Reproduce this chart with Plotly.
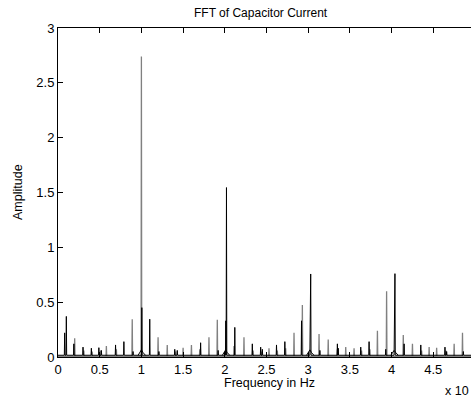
import plotly.graph_objects as go

# Frequencies in units of 10^4 Hz
gray_f = [0.2, 0.31, 0.41, 0.51, 0.58, 0.70, 0.89, 1.0, 1.20, 1.31, 1.41, 1.50, 1.60, 1.70, 1.81, 1.91,
          2.11, 2.23, 2.34, 2.44, 2.53, 2.63, 2.73, 2.83, 2.93, 3.13, 3.24, 3.35, 3.45, 3.55, 3.64, 3.74,
          3.83, 3.94, 4.14, 4.25, 4.36, 4.45, 4.54, 4.65, 4.75, 4.85]
gray_v = [0.17, 0.06, 0.05, 0.06, 0.10, 0.07, 0.345, 2.74, 0.18, 0.11, 0.05, 0.085, 0.11, 0.07, 0.18, 0.34,
          0.10, 0.18, 0.06, 0.05, 0.08, 0.06, 0.08, 0.22, 0.475, 0.21, 0.16, 0.07, 0.09, 0.08, 0.06, 0.07,
          0.24, 0.60, 0.20, 0.12, 0.06, 0.09, 0.085, 0.06, 0.12, 0.22]

black_f = [0.08, 0.10, 0.19, 0.30, 0.40, 0.49, 0.52, 0.69, 0.79, 0.90, 1.005, 1.10, 1.21, 1.40, 1.43,
           1.71, 1.92, 2.012, 2.02, 2.12, 2.33, 2.43, 2.45, 2.62, 2.72, 2.92, 3.024, 3.03, 3.14, 3.35,
           3.36, 3.63, 3.73, 3.93, 4.034, 4.04, 4.15, 4.35, 4.64, 4.66, 4.86]
black_v = [0.22, 0.37, 0.12, 0.09, 0.08, 0.085, 0.06, 0.11, 0.14, 0.05, 0.45, 0.345, 0.05, 0.07, 0.06,
           0.13, 0.06, 0.33, 1.545, 0.27, 0.12, 0.09, 0.07, 0.11, 0.14, 0.33, 0.42, 0.757, 0.06, 0.12,
           0.08, 0.09, 0.14, 0.07, 0.455, 0.76, 0.12, 0.11, 0.09, 0.05, 0.05]

# small humps of the black trace around the harmonics
hump_f = [0.96, 0.98, 1.0, 1.02, 1.05, None, 1.97, 1.99, 2.01, 2.03, 2.06, None,
          2.98, 3.0, 3.02, 3.04, 3.07, None, 3.99, 4.01, 4.03, 4.05, 4.08]
hump_v = [0.015, 0.04, 0.065, 0.04, 0.015, None, 0.015, 0.04, 0.065, 0.04, 0.015, None,
          0.015, 0.04, 0.065, 0.04, 0.015, None, 0.015, 0.04, 0.06, 0.04, 0.015]

x_max = 4.952
w = 0.004


def spikes(fs, vs, base):
    xs, ys = [0.0], [base]
    for f, v in sorted(zip(fs, vs)):
        xs += [f - w, f, f + w]
        ys += [base, v, base]
    xs.append(x_max)
    ys.append(base)
    return xs, ys


gx, gy = spikes(gray_f, gray_v, 0.006)
bx, by = spikes(black_f, black_v, 0.016)

fig = go.Figure()
fig.add_trace(go.Scatter(x=gx, y=gy, mode="lines", line=dict(color="#808080", width=1.3),
                         hoverinfo="skip"))
fig.add_trace(go.Scatter(x=hump_f, y=hump_v, mode="lines", line=dict(color="#000000", width=1),
                         connectgaps=False, hoverinfo="skip"))
fig.add_trace(go.Scatter(x=bx, y=by, mode="lines", line=dict(color="#000000", width=1),
                         hoverinfo="skip"))

font = dict(family="Liberation Sans, Arial, sans-serif", color="#000000")

fig.update_layout(
    width=471, height=399,
    margin=dict(l=58, r=0, t=28, b=42),
    paper_bgcolor="white", plot_bgcolor="white",
    showlegend=False,
    font=dict(size=12.5, **font),
    xaxis=dict(range=[0, x_max], tickvals=[0, 0.5, 1, 1.5, 2, 2.5, 3, 3.5, 4, 4.5],
               ticktext=["0", "0.5", "1", "1.5", "2", "2.5", "3", "3.5", "4", "4.5"],
               ticks="inside", ticklen=5, tickcolor="#000", showline=True, linecolor="#000",
               linewidth=1, mirror="ticks", showgrid=False, zeroline=False,
               tickfont=dict(size=13)),
    yaxis=dict(range=[0, 3], tickvals=[0, 0.5, 1, 1.5, 2, 2.5, 3],
               ticktext=["0", "0.5", "1", "1.5", "2", "2.5", "3"],
               ticks="inside", ticklen=5, tickcolor="#000", showline=True, linecolor="#000",
               linewidth=1, mirror=False, showgrid=False, zeroline=False,
               tickfont=dict(size=13)),
    annotations=[
        dict(text="FFT of Capacitor Current", xref="paper", yref="paper", x=(261 - 58) / 413,
             y=1 + 15 / 329, xanchor="center", yanchor="middle", showarrow=False,
             font=dict(size=12)),
        dict(text="Frequency in Hz", xref="paper", yref="paper", x=(269.5 - 58) / 413,
             y=-26 / 329, xanchor="center", yanchor="middle", showarrow=False,
             font=dict(size=12.5)),
        dict(text="Amplitude", xref="paper", yref="paper", x=-(58 - 18) / 413,
             y=(357 - 192) / 329, xanchor="center", yanchor="middle", textangle=-90,
             showarrow=False, font=dict(size=12.5)),
        dict(text="x 10", xref="paper", yref="paper", x=1.0, y=-34 / 329,
             xanchor="right", yanchor="middle", showarrow=False, font=dict(size=12.5)),
    ],
)

fig.write_html(
    "out.html",
    config={"displayModeBar": False, "staticPlot": True},
    post_script="document.body.style.margin='0';document.body.style.overflow='hidden';",
)
